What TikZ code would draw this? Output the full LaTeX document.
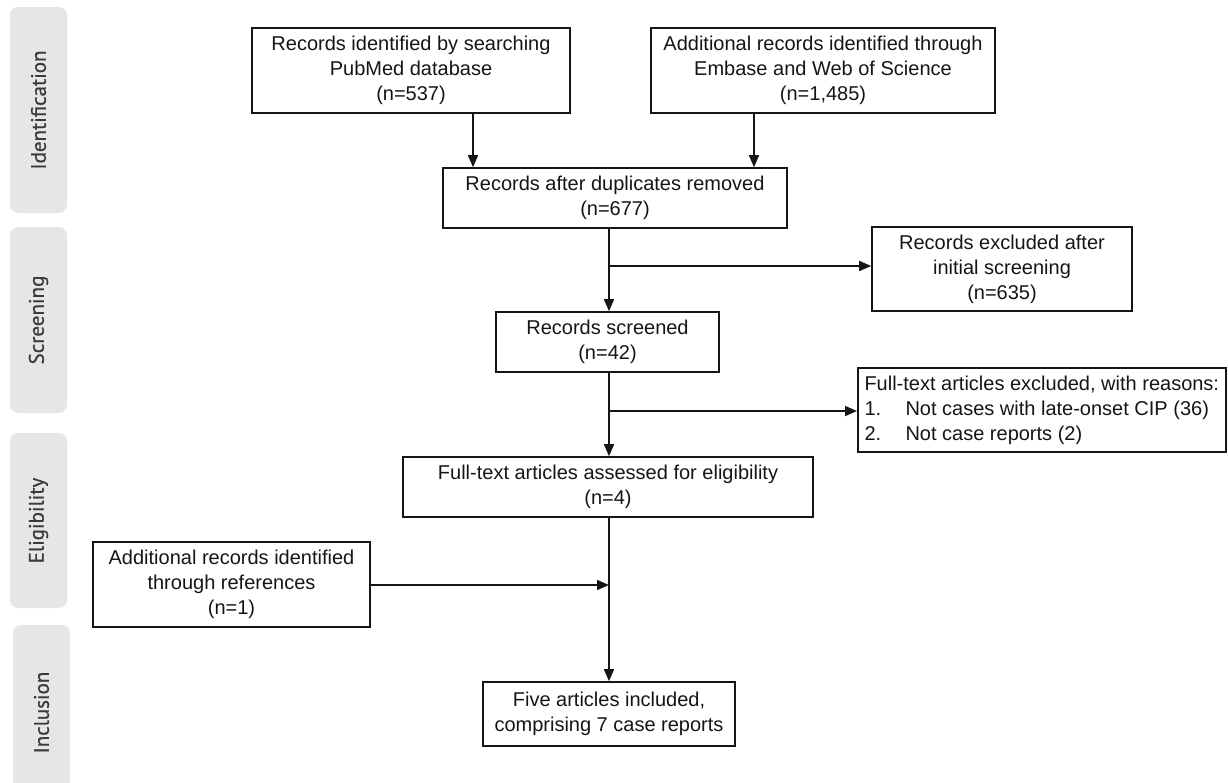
\documentclass[tikz,border=0pt]{standalone}
\usepackage{fontspec}
\setmainfont{Liberation Sans}
\newfontfamily\sidefont[FakeBold=0.6]{PT Sans}
\usetikzlibrary{arrows.meta}
\definecolor{sidefill}{HTML}{E6E6E6}
\definecolor{sidetext}{HTML}{3A3A3A}
\definecolor{inkc}{HTML}{151515}
\tikzset{
  box/.style={draw=inkc, line width=1.6pt, align=center, inner sep=0pt,
    font=\fontsize{20}{25}\selectfont, text=inkc},
  sidebar/.style={fill=sidefill, rounded corners=8pt, rotate=90, inner sep=0pt,
    font=\sidefont\fontsize{21}{25}\selectfont, text=sidetext, minimum height=57pt},
  arr/.style={draw=inkc, line width=1.6pt, -{Triangle[length=12pt,width=10pt]}}
}
\begin{document}
\begin{tikzpicture}[x=1pt,y=-1pt]
\useasboundingbox (0,0) rectangle (1228,782);
% side bars
\node[sidebar, minimum width=206pt] (sid) at (38.5,110) {Identification};
\node[sidebar, minimum width=186pt] (scr) at (38.5,320) {Screening};
\node[sidebar, minimum width=175pt] (eli) at (38.5,520.5) {Eligibility};
\node[sidebar, minimum width=175pt] (inc) at (41.5,712.5) {Inclusion};
% boxes
\node[box, minimum width=318pt, minimum height=85pt] (b1) at (411,70.5)
  {Records identified by searching\\PubMed database\\(n=537)};
\node[box, minimum width=344pt, minimum height=85pt] (b2) at (823,70.5)
  {Additional records identified through\\Embase and Web of Science\\(n=1,485)};
\node[box, minimum width=344pt, minimum height=60pt] (b3) at (615,198)
  {Records after duplicates removed\\(n=677)};
\node[box, minimum width=260pt, minimum height=84pt] (b5) at (1002,269)
  {Records excluded after\\initial screening\\(n=635)};
\node[box, minimum width=223pt, minimum height=60pt] (b4) at (607.5,342)
  {Records screened\\(n=42)};
\node[box, minimum width=368pt, minimum height=84pt, align=left, inner xsep=4pt, anchor=west] (b7) at (857,410)
  {Full-text articles excluded, with reasons:\\\makebox[41pt][l]{1.}Not cases with late-onset CIP (36)\\\makebox[41pt][l]{2.}Not case reports (2)};
\node[box, minimum width=410pt, minimum height=60pt] (b6) at (608,487)
  {Full-text articles assessed for eligibility\\(n=4)};
\node[box, minimum width=277pt, minimum height=85pt] (b9) at (231.5,584.5)
  {Additional records identified\\through references\\(n=1)};
\node[box, minimum width=252pt, minimum height=64pt] (b8) at (609,714)
  {Five articles included,\\comprising 7 case reports};
% connector guides
\coordinate (ca) at (473,0);
\coordinate (cb) at (754,0);
\coordinate (v) at (609,0);
\coordinate (j1) at (609,266);
\coordinate (j2) at (609,411);
\coordinate (j3) at (609,585);
% connectors
\draw[arr] (b1.south -| ca) -- (b3.north -| ca);
\draw[arr] (b2.south -| cb) -- (b3.north -| cb);
\draw[arr] (b3.south -| v) -- (b4.north -| v);
\draw[arr] (j1) -- (b5.west |- j1);
\draw[arr] (b4.south -| v) -- (b6.north -| v);
\draw[arr] (j2) -- (b7.west |- j2);
\draw[arr] (b6.south -| v) -- (b8.north -| v);
\draw[arr] (b9.east |- j3) -- (j3);
\end{tikzpicture}
\end{document}
